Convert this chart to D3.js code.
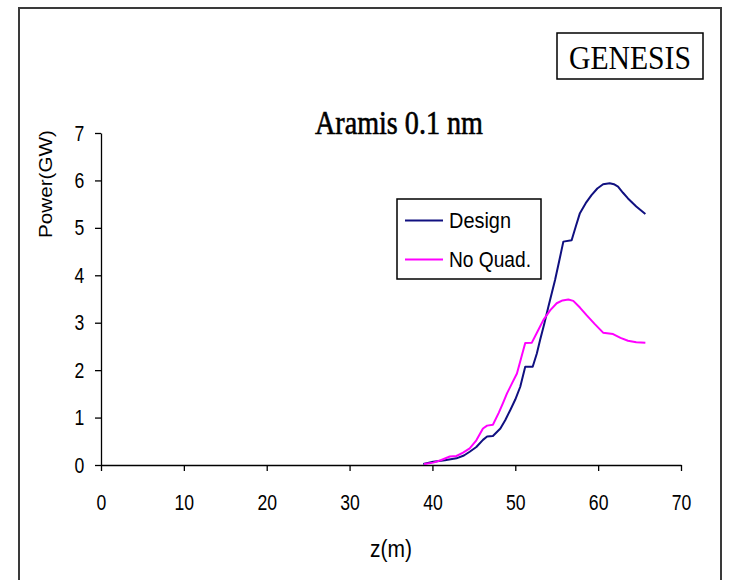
<!DOCTYPE html>
<html>
<head>
<meta charset="utf-8">
<script src="https://cdn.jsdelivr.net/npm/d3@7/dist/d3.min.js"></script>
<style>
  html, body { margin: 0; padding: 0; background: #fff; }
  svg { display: block; }
</style>
</head>
<body>
<svg id="chart" width="732" height="580"></svg>
<script>
// Power along the undulator, z in metres, P in GW
const designZ = [38.9, 40.1, 41.5, 42.9, 43.8, 44.5, 45.3, 46.1, 46.6, 47.3, 48.2, 48.8, 49.4, 50.0, 50.6, 51.2, 52.1, 52.6, 53.0, 53.5, 54.0, 54.4, 54.8, 55.3, 55.8, 56.8, 57.3, 57.8, 58.5, 59.2, 59.9, 60.6, 61.4, 61.9, 62.4, 63.0, 63.6, 64.6, 65.7];
const designP = [0.02, 0.07, 0.10, 0.14, 0.20, 0.28, 0.38, 0.53, 0.60, 0.61, 0.77, 0.95, 1.16, 1.38, 1.65, 2.07, 2.07, 2.35, 2.64, 2.98, 3.34, 3.62, 3.90, 4.30, 4.71, 4.74, 5.03, 5.31, 5.52, 5.69, 5.83, 5.92, 5.94, 5.92, 5.87, 5.74, 5.62, 5.45, 5.29];

const noQuadZ = [39.0, 40.1, 41.0, 42.1, 42.9, 43.7, 44.5, 45.3, 46.1, 46.6, 47.3, 48.0, 48.5, 49.0, 49.6, 50.2, 50.7, 51.2, 52.0, 52.7, 53.4, 54.2, 55.0, 55.7, 56.4, 57.0, 57.8, 58.6, 59.6, 60.6, 61.8, 62.7, 63.6, 64.6, 65.7];
const noQuadP = [0.02, 0.05, 0.10, 0.18, 0.19, 0.26, 0.35, 0.52, 0.77, 0.83, 0.85, 1.10, 1.30, 1.51, 1.72, 1.93, 2.25, 2.57, 2.58, 2.82, 3.06, 3.26, 3.41, 3.47, 3.49, 3.46, 3.32, 3.16, 2.97, 2.79, 2.76, 2.68, 2.62, 2.59, 2.58];

const seriesNames = ["Design", "No Quad."];
const seriesColors = ["#101080", "#ff00ff"];
const xTicks = [0, 10, 20, 30, 40, 50, 60, 70];
const yTicks = [0, 1, 2, 3, 4, 5, 6, 7];

const svg = d3.select("#chart");

// outer frame
svg.append("rect")
  .attr("x", 19).attr("y", 8).attr("width", 702).attr("height", 620)
  .attr("fill", "none").attr("stroke", "#3a3a3a").attr("stroke-width", 2);

const plot = { left: 101, right: 681, top: 133, bottom: 465 };
const x = d3.scaleLinear().domain([0, 70]).range([plot.left, plot.right]);
const y = d3.scaleLinear().domain([0, 7]).range([plot.bottom, plot.top]);

const sans = "'Liberation Sans', Arial, sans-serif";
const serif = "'Liberation Serif', 'Times New Roman', serif";
const fmt = d3.format("d");

// x axis
const gx = svg.append("g")
  .attr("transform", `translate(0,${plot.bottom})`)
  .call(d3.axisBottom(x).tickValues(xTicks).tickFormat(fmt).tickSize(6).tickPadding(23).tickSizeOuter(0));
gx.select(".domain").attr("stroke", "#000").attr("stroke-width", 1.3);
gx.selectAll(".tick line").attr("stroke", "#000").attr("stroke-width", 1.3);
gx.selectAll(".tick text")
  .attr("font-family", sans).attr("font-size", 22).attr("fill", "#000")
  .attr("transform", "scale(0.8,1)");

// y axis
const gy = svg.append("g")
  .attr("transform", `translate(${plot.left},0)`)
  .call(d3.axisLeft(y).tickValues(yTicks).tickFormat(fmt).tickSize(6).tickPadding(15).tickSizeOuter(0));
gy.select(".domain").attr("stroke", "#000").attr("stroke-width", 1.3);
gy.selectAll(".tick line").attr("stroke", "#000").attr("stroke-width", 1.3);
gy.selectAll(".tick text")
  .attr("font-family", sans).attr("font-size", 22).attr("fill", "#000")
  .attr("transform", "scale(0.8,1)");

// axis titles
svg.append("text")
  .attr("x", 391).attr("y", 557)
  .attr("text-anchor", "middle")
  .attr("font-family", sans).attr("font-size", 23)
  .attr("textLength", 42).attr("lengthAdjust", "spacingAndGlyphs")
  .text("z(m)");

svg.append("text")
  .attr("transform", "translate(52,184) rotate(-90)")
  .attr("text-anchor", "middle")
  .attr("font-family", sans).attr("font-size", 19)
  .attr("textLength", 108).attr("lengthAdjust", "spacingAndGlyphs")
  .text("Power(GW)");

// chart title (slightly heavier than regular weight)
svg.append("text")
  .attr("x", 399).attr("y", 134)
  .attr("text-anchor", "middle")
  .attr("font-family", serif).attr("font-size", 33)
  .attr("stroke", "#000").attr("stroke-width", 0.6)
  .attr("textLength", 168).attr("lengthAdjust", "spacingAndGlyphs")
  .text("Aramis 0.1 nm");

// code label box
svg.append("rect")
  .attr("x", 557).attr("y", 33).attr("width", 146).attr("height", 46)
  .attr("fill", "#fff").attr("stroke", "#000").attr("stroke-width", 1.5);
svg.append("text")
  .attr("x", 630).attr("y", 69)
  .attr("text-anchor", "middle")
  .attr("font-family", serif).attr("font-size", 34)
  .attr("textLength", 122).attr("lengthAdjust", "spacingAndGlyphs")
  .text("GENESIS");

// curves
const series = [
  designZ.map((z, i) => ({ z, p: designP[i] })),
  noQuadZ.map((z, i) => ({ z, p: noQuadP[i] }))
];
const line = d3.line().x(d => x(d.z)).y(d => y(d.p));
svg.selectAll("path.series")
  .data(series)
  .join("path")
  .attr("class", "series")
  .attr("d", line)
  .attr("fill", "none")
  .attr("stroke", (d, i) => seriesColors[i])
  .attr("stroke-width", 2)
  .attr("stroke-linejoin", "round");

// legend
const legend = svg.append("g");
legend.append("rect")
  .attr("x", 397).attr("y", 199).attr("width", 144).attr("height", 80)
  .attr("fill", "#fff").attr("stroke", "#000").attr("stroke-width", 1.5);
const legendText = [62, 82];
seriesNames.forEach((name, i) => {
  const ly = 220.5 + i * 39;
  legend.append("line")
    .attr("x1", 405).attr("x2", 443).attr("y1", ly).attr("y2", ly)
    .attr("stroke", seriesColors[i]).attr("stroke-width", 2);
  legend.append("text")
    .attr("x", 449).attr("y", ly + 7)
    .attr("font-family", sans).attr("font-size", 22)
    .attr("textLength", legendText[i]).attr("lengthAdjust", "spacingAndGlyphs")
    .text(name);
});
</script>
</body>
</html>
